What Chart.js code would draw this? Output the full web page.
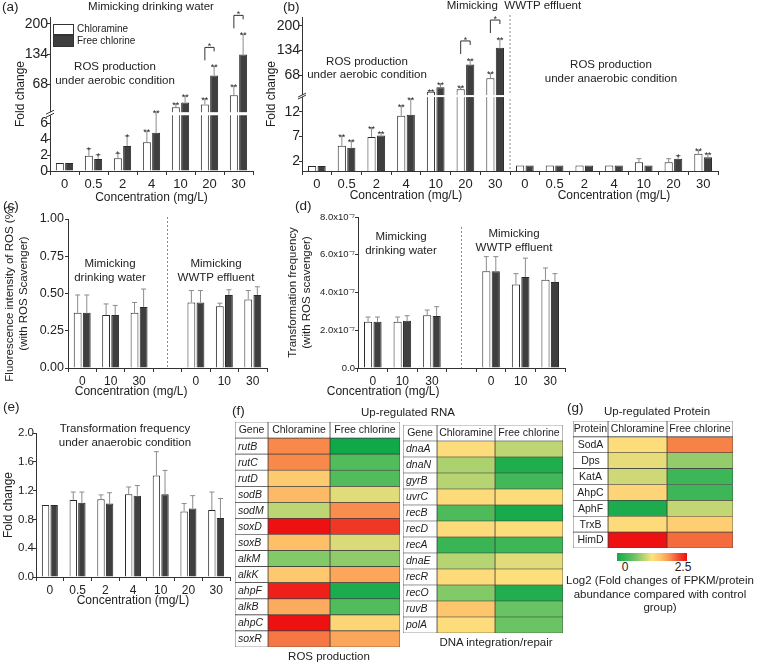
<!DOCTYPE html>
<html>
<head>
<meta charset="utf-8">
<script src="https://cdn.jsdelivr.net/npm/chart.js@4.4.1/dist/chart.umd.min.js"></script>
<style>
  body { margin: 0; width: 758px; height: 663px; position: relative; overflow: hidden; background: #fff;
         font-family: "Liberation Sans", Arial, sans-serif; color: #222; }
  canvas { position: absolute; }
  .lbl { position: absolute; white-space: nowrap; font-size: 11.5px; line-height: 13.5px; }
  .c { transform: translateX(-50%); text-align: center; }
  .let { font-size: 13.5px; }
  .sw { position: absolute; width: 19px; border: 1px solid #333; }
</style>
</head>
<body>
<canvas id="ca" width="260" height="205" style="left:0;top:0"></canvas>
<canvas id="cb" width="508" height="205" style="left:250px;top:0"></canvas>
<canvas id="cc" width="275" height="196" style="left:0;top:205px"></canvas>
<canvas id="cd" width="300" height="196" style="left:275px;top:205px"></canvas>
<canvas id="ce" width="235" height="205" style="left:0;top:405px"></canvas>
<canvas id="cf1" width="175" height="234" style="left:230px;top:418px"></canvas>
<canvas id="cf2" width="170" height="220" style="left:398px;top:418px"></canvas>
<canvas id="cg" width="170" height="136" style="left:568px;top:416px"></canvas>

<div class="lbl let" style="left:2px;top:0">(a)</div>
<div class="lbl c" style="left:151px;top:0">Mimicking drinking water</div>
<div class="sw" style="left:53px;top:24px;height:9px;background:#fff"></div>
<div class="sw" style="left:53px;top:35px;height:10px;background:#3f3f3f"></div>
<div class="lbl" style="left:77px;top:22px;font-size:10px">Chloramine</div>
<div class="lbl" style="left:77px;top:34px;font-size:10px">Free chlorine</div>
<div class="lbl c" style="left:115px;top:59px;line-height:14px">ROS production<br>under aerobic condition</div>

<div class="lbl let" style="left:283px;top:0">(b)</div>
<div class="lbl c" style="left:514px;top:-1px">Mimicking&nbsp; WWTP effluent</div>
<div class="lbl c" style="left:367px;top:55px;line-height:13px">ROS production<br>under aerobic condition</div>
<div class="lbl c" style="left:611px;top:57px;line-height:14px">ROS production<br>under anaerobic condition</div>

<div class="lbl let" style="left:3px;top:199px">(c)</div>
<div class="lbl c" style="left:110px;top:256px;line-height:14px">Mimicking<br>drinking water</div>
<div class="lbl c" style="left:216px;top:256px;line-height:14px">Mimicking<br>WWTP effluent</div>

<div class="lbl let" style="left:295px;top:199px">(d)</div>
<div class="lbl c" style="left:401px;top:230px;line-height:13.5px">Mimicking<br>drinking water</div>
<div class="lbl c" style="left:514px;top:226px;line-height:14px">Mimicking<br>WWTP effluent</div>

<div class="lbl let" style="left:3px;top:400px">(e)</div>
<div class="lbl c" style="left:125px;top:421px;line-height:14px">Transformation frequency<br>under anaerobic condition</div>

<div class="lbl let" style="left:232px;top:404px">(f)</div>
<div class="lbl c" style="left:408px;top:406px">Up-regulated RNA</div>
<div class="lbl c" style="left:329px;top:650px">ROS production</div>
<div class="lbl c" style="left:496px;top:636px">DNA integration/repair</div>

<div class="lbl let" style="left:567px;top:401px">(g)</div>
<div class="lbl c" style="left:657px;top:405px">Up-regulated Protein</div>
<div id="cbar" style="position:absolute;left:617px;top:553px;width:70px;height:8px"></div>
<div class="lbl c" style="left:625px;top:561px;font-size:12px">0</div>
<div class="lbl c" style="left:683px;top:561px;font-size:12px">2.5</div>
<div class="lbl c" style="left:660px;top:574px">Log2 (Fold changes of FPKM/protein<br>abundance compared with control<br>group)</div>

<script>
const FONT = '"Liberation Sans", Arial, sans-serif';
Chart.defaults.font.family = FONT;
Chart.defaults.color = '#222';

// ---------- data ----------
const conc = ['0', '0.5', '2', '4', '10', '20', '30'];

// (a) drinking water, aerobic ROS fold change
const aChl = [1.0, 1.9, 1.6, 3.6, 18, 24, 44];
const aChlErr = [0, 0.9, 0.6, 1.4, 7, 12, 20];
const aFree = [1.0, 1.5, 3.15, 4.8, 28, 87, 133];
const aFreeErr = [0, 0.55, 1.25, 2.4, 14, 20, 44];
const aStarChl = ['', '*', '*', '**', '**', '**', '**'];
const aStarFree = ['', '*', '*', '**', '**', '**', '**'];
const aTicks = [0, 2, 4, 6, 68, 134, 200];

// (b) WWTP effluent: aerobic (first 7) then anaerobic (last 7)
const bLabels = conc.concat(conc);
const bChl = [1.0, 5.1, 6.9, 11.2, 24, 30.5, 60, 1.1, 1.1, 1.1, 1.1, 1.8, 1.8, 3.5];
const bChlErr = [0, 2.0, 1.9, 2.0, 3, 5.5, 13, 0, 0, 0, 0, 0.7, 0.7, 0.7];
const bFree = [1.0, 4.7, 7.2, 11.4, 36, 97, 142, 1.1, 1.1, 1.1, 1.1, 1.1, 2.5, 2.8];
const bFreeErr = [0, 1.4, 0.6, 3.2, 9, 12, 23, 0, 0, 0, 0, 0, 0.6, 0.7];
const bStarChl = ['', '**', '**', '**', '**', '**', '**', '', '', '', '', '', '', '**'];
const bStarFree = ['', '**', '**', '**', '**', '**', '**', '', '', '', '', '', '*', '**'];
const bTicks = [2, 7, 12, 68, 134, 200];

// (c) ROS fluorescence with scavenger
const cdLabels = ['0', '10', '30', '', '0', '10', '30'];
const cChl = [0.37, 0.355, 0.37, null, 0.44, 0.415, 0.46];
const cChlErr = [0.12, 0.075, 0.07, null, 0.08, 0.02, 0.06];
const cFree = [0.37, 0.355, 0.41, null, 0.44, 0.49, 0.49];
const cFreeErr = [0.12, 0.065, 0.12, null, 0.08, 0.035, 0.055];

// (d) transformation frequency with scavenger
const dChl = [2.45e-7, 2.45e-7, 2.8e-7, null, 5.12e-7, 4.42e-7, 4.68e-7];
const dChlErr = [0.25e-7, 0.25e-7, 0.27e-7, null, 0.78e-7, 0.58e-7, 0.62e-7];
const dFree = [2.45e-7, 2.5e-7, 2.75e-7, null, 5.12e-7, 4.82e-7, 4.55e-7];
const dFreeErr = [0.25e-7, 0.27e-7, 0.5e-7, null, 0.78e-7, 1.0e-7, 0.45e-7];

// (e) transformation frequency, anaerobic
const eChl = [1.0, 1.07, 1.08, 1.15, 1.41, 0.91, 0.93];
const eChlErr = [0, 0.11, 0.06, 0.10, 0.33, 0.11, 0.25];
const eFree = [1.0, 1.03, 1.02, 1.13, 1.15, 0.95, 0.82];
const eFreeErr = [0, 0.15, 0.15, 0.14, 0.33, 0.18, 0.27];

// (f) up-regulated RNA, log2 fold change
const rosGenes = ['rutB', 'rutC', 'rutD', 'sodB', 'sodM', 'soxD', 'soxB', 'alkM', 'alkK', 'ahpF', 'alkB', 'ahpC', 'soxR'];
const rosChl = [1.92, 1.92, 1.5, 1.62, 0.98, 2.5, 1.58, 0.72, 1.52, 2.42, 1.72, 2.5, 2.0];
const rosFree = [0.0, 0.45, 0.45, 1.12, 1.9, 2.3, 1.1, 0.78, 1.75, 0.08, 0.45, 1.38, 1.75];
const dnaGenes = ['dnaA', 'dnaN', 'gyrB', 'uvrC', 'recB', 'recD', 'recA', 'dnaE', 'recR', 'recO', 'ruvB', 'polA'];
const dnaChl = [1.3, 0.9, 0.95, 1.32, 0.42, 1.32, 0.28, 0.95, 1.32, 0.72, 1.55, 1.3];
const dnaFree = [0.98, 0.1, 0.35, 1.3, 0.05, 1.3, 0.3, 1.12, 1.28, 0.12, 0.6, 0.62];

// (g) up-regulated protein
const proteins = ['SodA', 'Dps', 'KatA', 'AhpC', 'AphF', 'TrxB', 'HimD'];
const protChl = [1.3, 1.15, 1.05, 1.38, 0.08, 1.32, 2.5];
const protFree = [1.95, 0.8, 0.3, 0.3, 1.0, 1.45, 2.05];

// ---------- helpers ----------
function splitAxis(B, L, gap, M) {
  return v => v <= B ? v / B * L : L + gap + (v - B) / (M - B) * (1 - L - gap);
}

function extras(cfg) {
  return {
    id: 'extras',
    beforeDatasetsDraw(chart) {
      const {ctx, chartArea: ca, scales: {x}} = chart;
      if (cfg.sep == null) return;
      const px = x.getPixelForValue(cfg.sep);
      ctx.save();
      ctx.strokeStyle = '#8a8a8a'; ctx.lineWidth = 1; ctx.setLineDash([2, 2]);
      ctx.beginPath(); ctx.moveTo(px, ca.top + (cfg.sepTop || 0)); ctx.lineTo(px, ca.bottom); ctx.stroke();
      ctx.restore();
    },
    afterDatasetsDraw(chart) {
      const {ctx, chartArea: ca, scales: {x, y}} = chart;
      ctx.save();
      if (cfg.brk) {
        const y1 = y.getPixelForValue(cfg.brk[0]), y2 = y.getPixelForValue(cfg.brk[1]);
        ctx.fillStyle = '#fff';
        ctx.fillRect(ca.left - 1, y2, ca.right - ca.left + 1, y1 - y2);
        ctx.strokeStyle = '#333'; ctx.lineWidth = 1;
        ctx.beginPath();
        [y1, y2].forEach(yy => { ctx.moveTo(ca.left - 4, yy + 2); ctx.lineTo(ca.left + 4, yy - 2); });
        ctx.stroke();
      }
      chart.data.datasets.forEach((ds, di) => {
        chart.getDatasetMeta(di).data.forEach((bar, i) => {
          if (ds.data[i] == null) return;
          let top = bar.y;
          if (ds.errTop[i] != null) {
            top = y.getPixelForValue(ds.errTop[i]);
            ctx.strokeStyle = '#8c8c8c'; ctx.lineWidth = 1;
            ctx.beginPath();
            ctx.moveTo(bar.x, bar.y); ctx.lineTo(bar.x, top);
            ctx.moveTo(bar.x - 2.5, top); ctx.lineTo(bar.x + 2.5, top);
            ctx.stroke();
          }
          const s = ds.stars[i];
          if (s) {
            ctx.fillStyle = '#333'; ctx.font = '9px ' + FONT;
            ctx.textAlign = 'center'; ctx.textBaseline = 'alphabetic';
            ctx.fillText(s, bar.x, top + 4);
          }
        });
      });
      (cfg.brackets || []).forEach(i => {
        const a = chart.getDatasetMeta(0).data[i], b = chart.getDatasetMeta(1).data[i];
        const yt = y.getPixelForValue(chart.data.datasets[1].errTop[i]) - 19;
        ctx.strokeStyle = '#333'; ctx.lineWidth = 1;
        ctx.beginPath();
        ctx.moveTo(a.x, yt + 13); ctx.lineTo(a.x, yt); ctx.lineTo(b.x, yt); ctx.lineTo(b.x, yt + 4);
        ctx.stroke();
        ctx.fillStyle = '#333'; ctx.font = '9px ' + FONT; ctx.textAlign = 'center'; ctx.textBaseline = 'alphabetic';
        ctx.fillText('*', (a.x + b.x) / 2, yt + 2);
      });
      ctx.font = '12px ' + FONT; ctx.fillStyle = '#222'; ctx.textAlign = 'center'; ctx.textBaseline = 'middle';
      (cfg.xTitleAt || []).forEach(t => ctx.fillText('Concentration (mg/L)', x.getPixelForValue(t), ca.bottom + cfg.xTitleDy));
      ctx.restore();
    }
  };
}

function pairChart(id, o) {
  const f = o.map || (v => v);
  const ds = (label, vals, errs, stars, fill) => ({
    label,
    data: vals.map(v => v == null ? null : f(v)),
    errTop: vals.map((v, i) => v == null || !errs[i] ? null : f(v + errs[i])),
    stars: stars || [],
    backgroundColor: fill, borderColor: '#2a2a2a', borderWidth: 1,
    barPercentage: 0.86, categoryPercentage: o.catPct || 0.64
  });
  const yTicks = o.yTicks;
  return new Chart(document.getElementById(id), {
    type: 'bar',
    data: {
      labels: o.labels,
      datasets: [
        ds('Chloramine', o.chl, o.chlErr, o.starChl, '#ffffff'),
        ds('Free chlorine', o.free, o.freeErr, o.starFree, '#3f3f3f')
      ]
    },
    options: {
      responsive: false, animation: false,
      layout: { padding: o.pad },
      plugins: { legend: { display: false }, tooltip: { enabled: false } },
      scales: {
        x: {
          grid: { drawOnChartArea: false, tickLength: 4, color: '#333', offset: true },
          border: { color: '#333' },
          ticks: { font: { size: o.xFont }, color: '#222', autoSkip: false, maxRotation: 0, padding: 2 },
          afterFit: s => { s.height = o.xH; }
        },
        y: {
          min: o.yMin, max: o.yMax,
          ticks: {
            stepSize: o.yStep, font: { size: o.yFont }, color: '#222', autoSkip: false,
            padding: o.yPad == null ? -1 : o.yPad,
            callback: yTicks ? ((v, i) => yTicks[i]) : o.yFmt
          },
          afterBuildTicks: yTicks ? (s => { s.ticks = yTicks.map(t => ({ value: f(t) })); }) : undefined,
          grid: { drawOnChartArea: false, tickLength: 3, color: '#333' },
          border: { color: '#333' },
          title: { display: true, text: o.yTitle, font: { size: o.yTitleSize || 12 }, color: '#222',
                   padding: { top: o.yTitlePad, bottom: 0 } },
          afterFit: s => { s.width = o.yW; }
        }
      }
    },
    plugins: [extras({ brk: o.brk, sep: o.sep, sepTop: o.sepTop, brackets: o.brackets,
                       xTitleAt: o.xTitleAt, xTitleDy: o.xTitleDy })]
  });
}

// ---------- (a) ----------
const aMap = splitAxis(7, 0.362, 0.02, 215);
pairChart('ca', {
  labels: conc, chl: aChl, chlErr: aChlErr, free: aFree, freeErr: aFreeErr,
  starChl: aStarChl, starFree: aStarFree, map: aMap, yTicks: aTicks, yMin: 0, yMax: 1,
  brk: [0.362, 0.382], brackets: [5, 6],
  pad: { top: 17, right: 7, left: 0, bottom: 0 }, yW: 50, xH: 34, xFont: 13, yFont: 14,
  yTitle: 'Fold change', yTitlePad: 13, xTitleAt: [3], xTitleDy: 27
});

// ---------- (b) ----------
const bMap = splitAxis(15, 0.48, 0.013, 224);
pairChart('cb', {
  labels: bLabels, chl: bChl, chlErr: bChlErr, free: bFree, freeErr: bFreeErr,
  starChl: bStarChl, starFree: bStarFree, map: bMap, yTicks: bTicks, yMin: 0, yMax: 1,
  brk: [0.48, 0.493], brackets: [5, 6], sep: 6.5, sepTop: -2,
  pad: { top: 17, right: 40, left: 0, bottom: 0 }, yW: 52, xH: 34, xFont: 13, yFont: 14,
  yTitle: 'Fold change', yTitlePad: 14, xTitleAt: [3, 10], xTitleDy: 25
});

// ---------- (c) ----------
pairChart('cc', {
  labels: cdLabels, chl: cChl, chlErr: cChlErr, free: cFree, freeErr: cFreeErr,
  yMin: 0, yMax: 1, yStep: 0.25, yFmt: v => v.toFixed(2), sep: 3, sepTop: -2, yPad: 1,
  pad: { top: 14, right: 8, left: 0, bottom: 0 }, yW: 68, xH: 33, xFont: 12, yFont: 12.5,
  yTitle: ['Fluorescence intensity of ROS (%)', '(with ROS Scavenger)'], yTitleSize: 11.5, yTitlePad: 3,
  xTitleAt: [1.72], xTitleDy: 24
});

// ---------- (d) ----------
pairChart('cd', {
  labels: cdLabels, chl: dChl, chlErr: dChlErr, free: dFree, freeErr: dFreeErr,
  yMin: 0, yMax: 8e-7, yStep: 2e-7, yPad: 0,
  yFmt: v => v === 0 ? '0.0' : (v / 1e-7).toFixed(1) + 'x10\u207B\u2077', sep: 3, sepTop: 10,
  pad: { top: 12, right: 10, left: 0, bottom: 0 }, yW: 83, xH: 33, xFont: 12, yFont: 9.5,
  yTitle: ['Transformation frequency', '(with ROS scavenger)'], yTitleSize: 11.5, yTitlePad: 11,
  xTitleAt: [0.35], xTitleDy: 24
});

// ---------- (e) ----------
pairChart('ce', {
  labels: conc, chl: eChl, chlErr: eChlErr, free: eFree, freeErr: eFreeErr,
  yMin: 0, yMax: 2, yStep: 0.4, yFmt: v => v.toFixed(1), catPct: 0.62,
  pad: { top: 28, right: 5, left: 0, bottom: 0 }, yW: 36, xH: 33, xFont: 12, yFont: 11.5,
  yTitle: 'Fold change', yTitlePad: 1, xTitleAt: [3], xTitleDy: 24
});

// ---------- heat tables ----------
const heatStops = [
  [0, [16, 169, 74]], [0.625, [108, 196, 100]], [1.25, [253, 226, 126]], [1.55, [253, 197, 108]],
  [1.875, [249, 147, 79]], [2.2, [240, 74, 47]], [2.5, [238, 17, 17]]
];
function heatColor(v) {
  for (let k = 1; k < heatStops.length; k++) {
    const [v0, c0] = heatStops[k - 1], [v1, c1] = heatStops[k];
    if (v <= v1 || k === heatStops.length - 1) {
      const t = Math.max(0, Math.min(1, (v - v0) / (v1 - v0)));
      const c = c0.map((ch, j) => Math.round(ch + (c1[j] - ch) * t));
      return 'rgb(' + c.join(',') + ')';
    }
  }
}
document.getElementById('cbar').style.background = 'linear-gradient(to right, ' +
  heatStops.map(s => 'rgb(' + s[1].join(',') + ') ' + (s[0] / 2.5 * 100) + '%').join(', ') + ')';

function cellText(labels, heads, edges, italic) {
  return {
    id: 'cellText',
    afterDatasetsDraw(chart) {
      const {ctx, scales: {x, y}} = chart;
      ctx.save();
      ctx.fillStyle = '#1e1e1e'; ctx.textBaseline = 'middle';
      labels.forEach((r, i) => {
        const yc = y.getPixelForValue(i) + 0.5;
        if (i === 0) {
          ctx.font = '10.5px ' + FONT; ctx.textAlign = 'center';
          heads.forEach((h, c) => ctx.fillText(h, x.getPixelForValue((edges[c] + edges[c + 1]) / 2), yc));
        } else if (italic) {
          ctx.font = 'italic 10.5px ' + FONT; ctx.textAlign = 'left';
          ctx.fillText(r, x.getPixelForValue(edges[0]) + 3, yc);
        } else {
          ctx.font = '10.5px ' + FONT; ctx.textAlign = 'center';
          ctx.fillText(r, x.getPixelForValue((edges[0] + edges[1]) / 2), yc);
        }
      });
      ctx.restore();
    }
  };
}

function heatTable(id, heads, names, chl, free, edges, italic, pad) {
  const labels = [heads[0]].concat(names);
  const fills = [
    labels.map(() => '#ffffff'),
    ['#ffffff'].concat(chl.map(heatColor)),
    ['#ffffff'].concat(free.map(heatColor))
  ];
  return new Chart(document.getElementById(id), {
    type: 'bar',
    data: {
      labels,
      datasets: [0, 1, 2].map(c => ({
        data: labels.map(() => [edges[c], edges[c + 1]]),
        backgroundColor: fills[c], borderColor: '#3c3c3c', borderWidth: 0.7, borderSkipped: false,
        barPercentage: 1, categoryPercentage: 1, grouped: false
      }))
    },
    options: {
      indexAxis: 'y', responsive: false, animation: false,
      layout: { padding: pad },
      plugins: { legend: { display: false }, tooltip: { enabled: false } },
      scales: {
        x: { type: 'linear', min: 0, max: edges[3], display: false },
        y: { display: false }
      }
    },
    plugins: [cellText(labels, heads, edges, italic)]
  });
}

heatTable('cf1', ['Gene', 'Chloramine', 'Free chlorine'], rosGenes, rosChl, rosFree,
  [0, 33, 95, 165], true, { left: 5, right: 5, top: 4, bottom: 5 });
heatTable('cf2', ['Gene', 'Chloramine', 'Free chlorine'], dnaGenes, dnaChl, dnaFree,
  [0, 34, 92, 160], true, { left: 5, right: 5, top: 7, bottom: 5 });
heatTable('cg', ['Protein', 'Chloramine', 'Free chlorine'], proteins, protChl, protFree,
  [0, 35, 94, 160], false, { left: 5, right: 5, top: 5, bottom: 4 });
</script>
</body>
</html>
